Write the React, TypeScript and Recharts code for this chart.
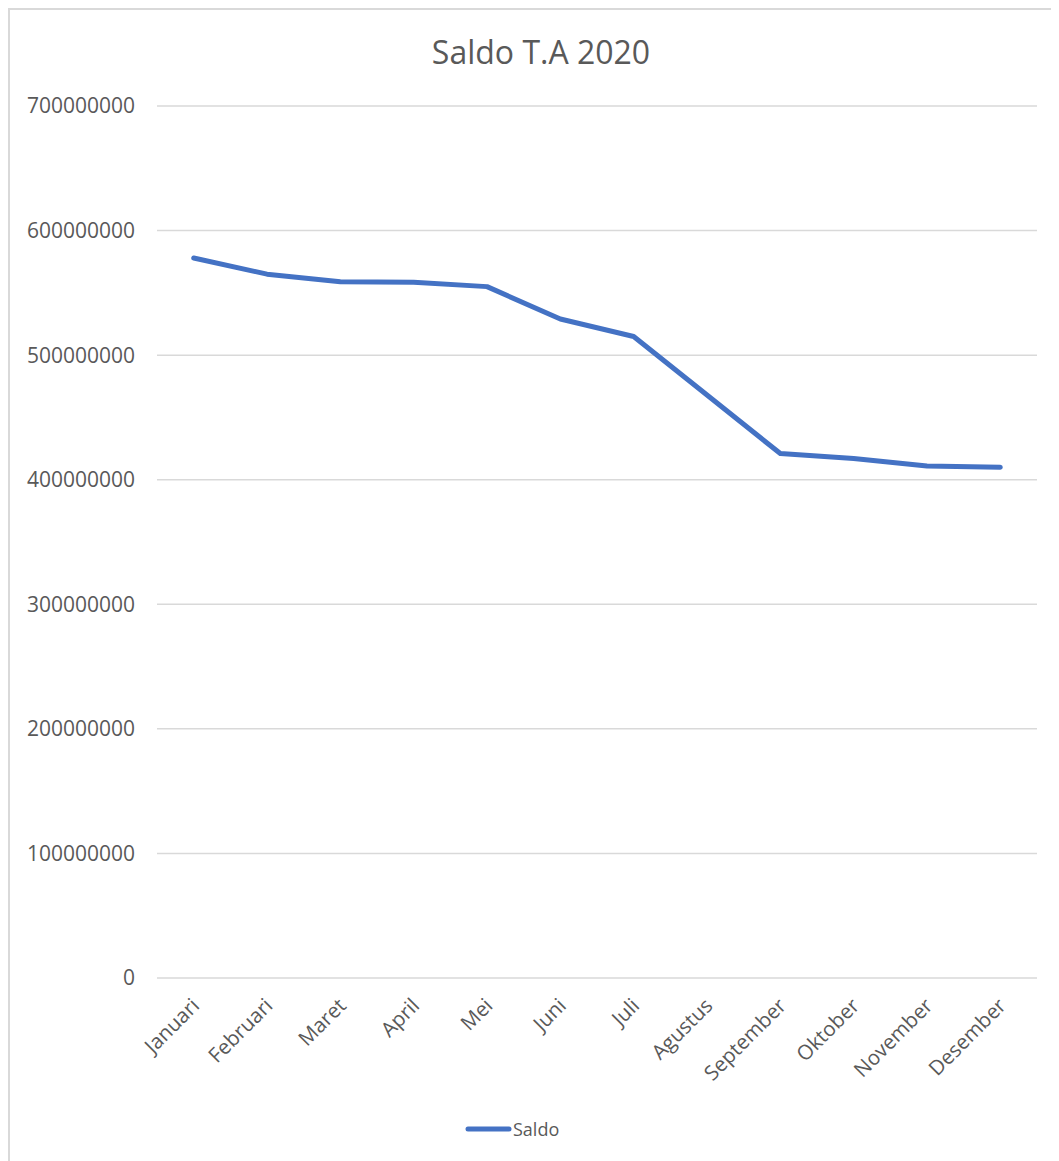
import { LineChart, Line, XAxis, YAxis, CartesianGrid, Legend } from 'recharts';

const months = [
  'Januari', 'Februari', 'Maret', 'April', 'Mei', 'Juni',
  'Juli', 'Agustus', 'September', 'Oktober', 'November', 'Desember',
];
const saldo = [
  578000000, 565000000, 559000000, 558500000, 555000000, 529000000,
  515000000, 468000000, 421000000, 417000000, 411000000, 410000000,
];
const yTicks = [0, 100000000, 200000000, 300000000, 400000000, 500000000, 600000000, 700000000];

const data = months.map((m, i) => ({ month: m, Saldo: saldo[i] }));

const FONT = '"Open Sans", sans-serif';
const GREY = '#595959';

const MonthTick = (props: any) => {
  const { x, y, payload } = props;
  const ax = x + 7;
  const ay = y + 27;
  return (
    <text
      x={ax}
      y={ay}
      transform={`rotate(-45, ${ax}, ${ay})`}
      textAnchor="end"
      fill={GREY}
      fontSize={20.5}
      fontFamily={FONT}
    >
      {payload.value}
    </text>
  );
};

const SaldoLegend = () => (
  <div style={{ display: 'flex', alignItems: 'center', fontFamily: FONT, fontSize: 18, color: GREY }}>
    <svg width={47} height={10}>
      <line x1={3} y1={5} x2={44} y2={5} stroke="#4472C4" strokeWidth={5} strokeLinecap="round" />
    </svg>
    <span style={{ marginLeft: 1 }}>Saldo</span>
  </div>
);

export default function App() {
  return (
    <div
      style={{
        position: 'relative',
        width: 1046,
        height: 1165,
        border: '2px solid #d9d9d9',
        background: '#fff',
      }}
    >
      <div
        style={{
          position: 'absolute',
          top: 20,
          left: 8,
          width: '100%',
          textAlign: 'center',
          fontFamily: FONT,
          fontSize: 32,
          color: GREY,
        }}
      >
        Saldo T.A 2020
      </div>
      <LineChart
        width={1046}
        height={1150}
        data={data}
        margin={{ top: 96, right: 19, left: 0, bottom: 3 }}
      >
        <CartesianGrid vertical={false} stroke="#d9d9d9" strokeWidth={1.5} />
        <XAxis
          dataKey="month"
          height={139}
          axisLine={false}
          tickLine={false}
          tickSize={0}
          interval={0}
          padding={{ left: 36.7, right: 36.7 }}
          tick={<MonthTick />}
        />
        <YAxis
          width={147}
          domain={[0, 700000000]}
          ticks={yTicks}
          axisLine={false}
          tickLine={false}
          tickSize={0}
          tickMargin={22}
          interval={0}
          tick={{ fill: GREY, fontSize: 21, fontFamily: FONT }}
        />
        <Legend
          verticalAlign="bottom"
          height={40}
          content={<SaldoLegend />}
          wrapperStyle={{ left: 455, width: 140 }}
        />
        <Line
          type="linear"
          dataKey="Saldo"
          stroke="#4472C4"
          strokeWidth={5}
          strokeLinecap="round"
          strokeLinejoin="round"
          dot={false}
          activeDot={false}
          isAnimationActive={false}
        />
      </LineChart>
    </div>
  );
}
